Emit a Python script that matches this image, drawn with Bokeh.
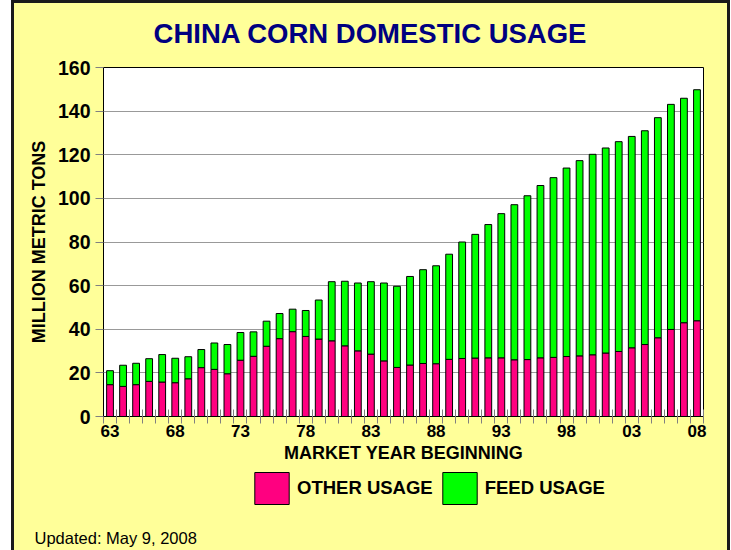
from bokeh.plotting import figure
from bokeh.layouts import column
from bokeh.models import (ColumnDataSource, Range1d, FixedTicker, Label, Legend, LegendItem)
from bokeh.embed import file_html
from bokeh.resources import INLINE

# ---- data ----
years = list(range(1963, 2009))
other_usage = [14.6, 13.8, 14.6, 16.1, 15.8, 15.5, 17.3, 22.4, 21.6, 19.6,
               25.8, 27.6, 32.2, 35.7, 38.9, 36.7, 35.5, 34.7, 32.4, 30.1,
               28.6, 25.5, 22.5, 23.6, 24.3, 24.2, 26.2, 26.6, 26.8, 26.9,
               26.9, 26.0, 26.1, 26.9, 27.1, 27.5, 27.8, 28.3, 29.1, 29.8,
               31.5, 33.0, 36.1, 39.9, 43.0, 43.9]
feed_usage = [6.4, 9.7, 9.8, 10.4, 12.6, 11.2, 10.1, 8.3, 12.1, 13.4,
              12.7, 11.2, 11.5, 11.5, 10.3, 11.9, 17.9, 27.1, 29.6, 31.1,
              33.2, 35.7, 37.2, 40.6, 43.0, 44.9, 48.2, 53.4, 56.7, 61.1,
              66.1, 71.1, 75.1, 79.0, 82.4, 86.4, 89.5, 91.9, 94.0, 96.2,
              96.9, 98.0, 100.9, 103.2, 102.9, 105.9]
label_years = [1963, 1968, 1973, 1978, 1983, 1988, 1993, 1998, 2003, 2008]
y_ticks = [0, 20, 40, 60, 80, 100, 120, 140, 160]
series_names = ["OTHER USAGE", "FEED USAGE"]
title_text = "CHINA CORN DOMESTIC USAGE"
note_text = "Updated: May 9, 2008"

PINK = "#FF0080"
GREEN = "#00FF00"
BG = "#FFFF99"
FONT = "Liberation Sans"
W = 713

X0, X1 = years[0] - 0.5, years[-1] + 0.5
Y0, Y1 = 0, 160

src = ColumnDataSource(dict(year=years, other=other_usage, feed=feed_usage))


def strip(h):
    """A yellow strip figure whose frame fills the whole canvas (pixel coordinates,
    y measured downward from the top)."""
    f = figure(width=W, height=h, output_backend="svg", toolbar_location=None,
               x_range=Range1d(0, W), y_range=Range1d(h, 0),
               x_axis_type=None, y_axis_type=None, min_border=0,
               background_fill_color=BG, border_fill_color=BG,
               outline_line_color=None, frame_align=False)
    return f


# ---- title strip ----
H0 = 50
top = strip(H0)
top.add_layout(Label(x=356, y=30, text=title_text, text_align="center",
                     text_baseline="middle", text_font=FONT,
                     text_font_style="bold", text_font_size="27.5px",
                     text_color="#000080"))

# ---- chart ----
H1 = 417
p = figure(width=W, height=H1, output_backend="svg", toolbar_location=None,
           x_range=Range1d(X0, X1), y_range=Range1d(Y0, Y1),
           min_border_left=89, min_border_right=24,
           min_border_top=14, min_border_bottom=54,
           background_fill_color="white", border_fill_color=BG,
           outline_line_color="black", outline_line_width=1, frame_align=False)

rs = p.vbar_stack(["other", "feed"], x="year", width=0.52, source=src,
                  color=[PINK, GREEN], line_color="black", line_width=1)

p.xgrid.grid_line_color = None
p.ygrid.grid_line_color = "#999999"
p.ygrid.ticker = FixedTicker(ticks=y_ticks)

ya = p.yaxis[0]
ya.ticker = FixedTicker(ticks=y_ticks)
ya.major_tick_in = 0
ya.major_tick_out = 8
ya.major_tick_line_color = "#808080"
ya.minor_tick_line_color = None
ya.axis_line_color = "black"
ya.major_label_standoff = 5
ya.major_label_text_font = FONT
ya.major_label_text_font_style = "bold"
ya.major_label_text_font_size = "19.5px"
ya.major_label_text_color = "black"
ya.axis_label = "MILLION METRIC TONS"
ya.axis_label_text_font = FONT
ya.axis_label_text_font_style = "bold"
ya.axis_label_text_font_size = "18px"
ya.axis_label_text_color = "black"
ya.axis_label_standoff = 6

xa = p.xaxis[0]
xa.ticker = FixedTicker(ticks=label_years,
                        minor_ticks=[y - 0.5 for y in years] + [years[-1] + 0.5])
xa.major_label_overrides = {y: "%02d" % (y % 100) for y in label_years}
xa.major_tick_line_color = None
xa.major_tick_in = 0
xa.major_tick_out = 7
xa.minor_tick_in = 7
xa.minor_tick_out = 7
xa.minor_tick_line_color = "#808080"
xa.axis_line_color = "black"
xa.major_label_standoff = 1
xa.major_label_text_font = FONT
xa.major_label_text_font_style = "bold"
xa.major_label_text_font_size = "17px"
xa.major_label_text_color = "black"
xa.axis_label = "MARKET YEAR BEGINNING"
xa.axis_label_text_font = FONT
xa.axis_label_text_font_style = "bold"
xa.axis_label_text_font_size = "18px"
xa.axis_label_text_color = "black"
xa.axis_label_standoff = 3

# ---- legend + note strip ----
H2 = 80
bot = strip(H2)
# legend swatches: same series, but the years lie outside this strip's x range,
# so only the legend glyphs are visible
sw_other = bot.vbar(x="year", top="other", source=src, width=0.52,
                    fill_color=PINK, line_color="black")
sw_feed = bot.vbar(x="year", top="feed", source=src, width=0.52,
                   fill_color=GREEN, line_color="black")
legend = Legend(items=[LegendItem(label=series_names[0], renderers=[sw_other]),
                       LegendItem(label=series_names[1], renderers=[sw_feed])],
                orientation="horizontal", location=(236, 41.7),
                glyph_width=43, glyph_height=40, label_standoff=4, spacing=5,
                padding=0, margin=0, border_line_color=None,
                background_fill_alpha=0,
                label_text_font=FONT, label_text_font_style="bold",
                label_text_font_size="18.5px", label_text_color="black")
bot.add_layout(legend, "center")
bot.add_layout(Label(x=20, y=67, text=note_text, text_align="left",
                     text_baseline="middle", text_font=FONT,
                     text_font_size="16.5px", text_color="black"))

layout = column(top, p, bot, spacing=0)
layout.styles = {"margin-left": "11px", "border-left": "3px solid #1a1a1a",
                 "border-top": "3px solid #1a1a1a", "border-right": "3px solid #1a1a1a",
                 "background-color": BG}

open("out.html", "w").write(file_html(layout, INLINE))
